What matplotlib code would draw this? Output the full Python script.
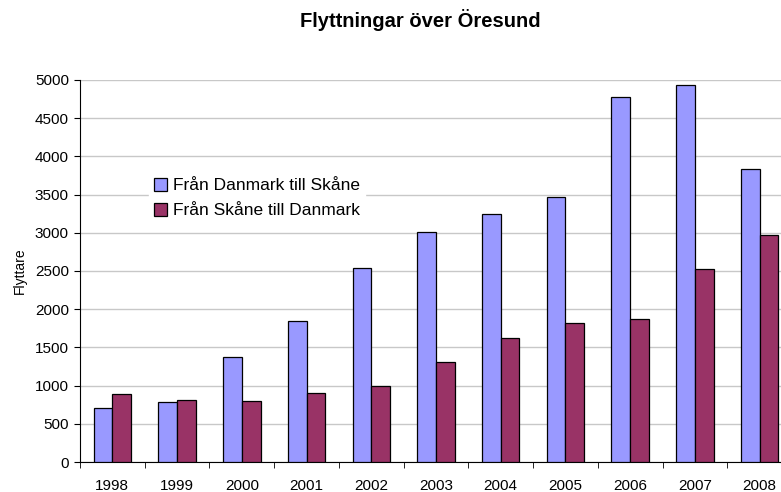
import numpy as np
import matplotlib
matplotlib.use("Agg")
import matplotlib.pyplot as plt

plt.rcParams['font.family'] = ['Liberation Sans', 'DejaVu Sans']

years = ['1998', '1999', '2000', '2001', '2002', '2003', '2004', '2005', '2006', '2007', '2008']
dk_to_sk = [710, 785, 1380, 1850, 2540, 3010, 3240, 3470, 4775, 4930, 3830]
sk_to_dk = [895, 805, 800, 900, 1000, 1310, 1625, 1820, 1870, 2525, 2975]

blue = '#9999FF'
maroon = '#993366'

fig = plt.figure(figsize=(7.81, 4.92), dpi=100)
ax = fig.add_axes([80/781, 1 - 462/492, 712/781, 382/492])

x = np.arange(len(years))
w = 0.29
ax.bar(x - w/2, dk_to_sk, w, color=blue, edgecolor='black', linewidth=0.9,
       label='Från Danmark till Skåne', zorder=3)
ax.bar(x + w/2, sk_to_dk, w, color=maroon, edgecolor='black', linewidth=0.9,
       label='Från Skåne till Danmark', zorder=3)

ax.set_xlim(-0.5, len(years) - 0.5)
ax.set_ylim(0, 5000)
ax.set_yticks(np.arange(0, 5001, 500))
ax.yaxis.grid(True, color='#c8c8c8', linewidth=1)
ax.set_axisbelow(True)

ax.set_xticks(x)
ax.set_xticklabels(years)
ax.set_xticks(np.arange(-0.5, len(years), 1), minor=True)
ax.tick_params(axis='x', which='major', length=0, pad=12, labelsize=11)
ax.tick_params(axis='x', which='minor', length=4, direction='out')
ax.tick_params(axis='y', length=4, direction='out', labelsize=11, pad=4)

for s in ['top', 'right']:
    ax.spines[s].set_visible(False)
ax.spines['left'].set_color('black')
ax.spines['bottom'].set_color('black')

ax.set_ylabel('Flyttare', fontsize=10, labelpad=6)

leg = ax.legend(loc='upper left', bbox_to_anchor=(0.085, 0.78), frameon=True,
                fontsize=12.5, handlelength=0.75, handleheight=0.75,
                handletextpad=0.3, labelspacing=0.55, borderpad=0.3)
leg.get_frame().set_edgecolor('white')
leg.get_frame().set_facecolor('white')
leg.get_frame().set_alpha(1)

fig.text(420/781, 1 - 20/492, 'Flyttningar över Öresund', ha='center', va='center',
         fontsize=14.5, fontweight='bold')

fig.savefig('out.png', dpi=100)
